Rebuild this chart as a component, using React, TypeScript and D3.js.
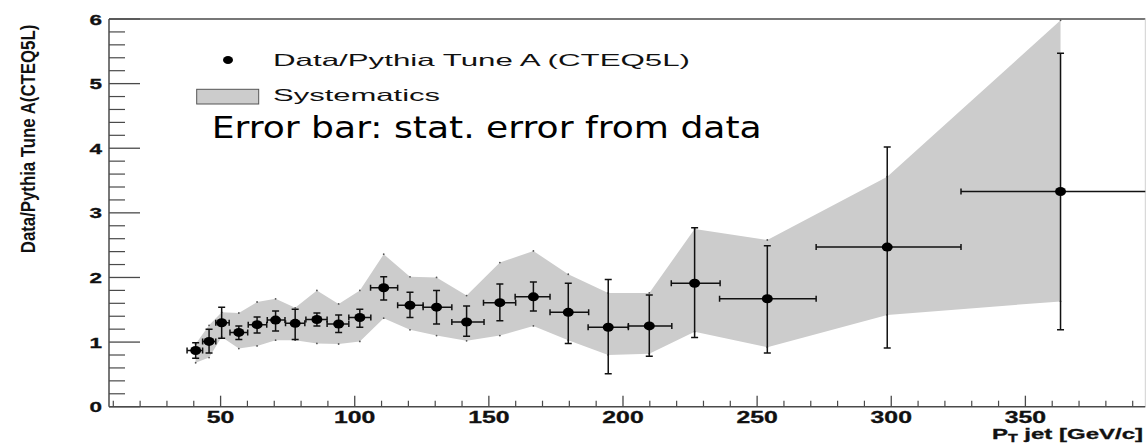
import React from "react";
import * as d3 from "d3";

// ---- data ----
const ptCenter = [40.7, 45.7, 50.4, 56.8, 63.6, 70.5, 77.8, 85.9, 94.0, 101.9, 110.8, 120.6, 130.5, 141.7, 154.1, 166.6, 179.6, 194.5, 209.8, 226.7, 253.8, 298.5, 363.1];
const ptLow = [37.5, 43.3, 48.2, 53.5, 60.3, 67.4, 74.2, 81.8, 89.7, 97.8, 105.9, 116.0, 125.5, 136.2, 148.0, 159.8, 172.8, 187.0, 202.0, 218.0, 236.0, 272.0, 326.0];
const ptHigh = [43.3, 48.2, 53.2, 60.1, 67.2, 74.0, 81.4, 89.7, 97.8, 106.0, 116.0, 125.5, 136.2, 148.2, 160.0, 172.8, 187.2, 202.0, 218.2, 236.2, 272.0, 326.0, 400.0];
const ratio = [0.87, 1.01, 1.30, 1.15, 1.27, 1.34, 1.29, 1.35, 1.28, 1.38, 1.84, 1.57, 1.54, 1.31, 1.61, 1.70, 1.46, 1.23, 1.25, 1.91, 1.67, 2.47, 3.33];
const statUp = [0.99, 1.20, 1.54, 1.25, 1.39, 1.48, 1.51, 1.45, 1.42, 1.51, 2.01, 1.77, 1.80, 1.56, 1.90, 1.93, 1.91, 1.97, 1.73, 2.77, 2.49, 4.02, 5.47];
const statDown = [0.75, 0.83, 1.06, 1.04, 1.14, 1.17, 1.04, 1.25, 1.15, 1.23, 1.65, 1.38, 1.28, 1.09, 1.33, 1.48, 0.98, 0.51, 0.78, 1.07, 0.83, 0.91, 1.19];
const sysUp = [0.97, 1.26, 1.46, 1.45, 1.62, 1.67, 1.53, 1.80, 1.59, 1.80, 2.36, 2.01, 2.00, 1.72, 2.23, 2.41, 2.05, 1.76, 1.76, 2.75, 2.58, 3.56, 5.98];
const sysDown = [0.68, 0.76, 1.08, 0.90, 0.94, 1.03, 1.03, 0.98, 0.97, 1.01, 1.37, 1.19, 1.10, 1.02, 1.10, 1.25, 1.03, 0.80, 0.82, 1.16, 0.92, 1.42, 1.63];

const xTickValues = [50, 100, 150, 200, 250, 300, 350];
const yTickValues = [0, 1, 2, 3, 4, 5, 6];
const xDomain = [8.4, 394.7];
const yDomain = [0, 6];

const legendData = "Data/Pythia Tune A (CTEQ5L)";
const legendSys = "Systematics";
const noteText = "Error bar: stat. error from data";
const yTitle = "Data/Pythia Tune A(CTEQ5L)";

const W = 1146;
const H = 445;
const L = 109;
const R = 1145.3;
const T = 19;
const B = 406.7;

export default function App() {
  const x = d3.scaleLinear().domain(xDomain).range([L, R]);
  const y = d3.scaleLinear().domain(yDomain).range([B, T]);

  const pts = ptCenter.map((c, i) => ({
    c, lo: ptLow[i], hi: ptHigh[i], v: ratio[i], su: statUp[i], sd: statDown[i], yu: sysUp[i], yd: sysDown[i],
  }));

  const area = d3
    .area<any>()
    .x((d) => x(d.c))
    .y0((d) => y(d.yd))
    .y1((d) => y(d.yu));

  const xMinor = d3.range(10, 395, 10).filter((v) => v % 50 !== 0);
  const yMinor = d3.range(0, 6.001, 0.2).filter((v) => Math.abs(v - Math.round(v)) > 1e-6);

  const axisColor = "#4a4a4a";
  const cap = 3.5;

  return (
    <>
      <style>{`body{margin:0}`}</style>
      <svg width={W} height={H} style={{ display: "block", background: "#fff" }}>
        <defs>
          <clipPath id="plotClip">
            <rect x={L} y={T - 2} width={R - L} height={B - T + 2} />
          </clipPath>
        </defs>

        {/* systematics band */}
        <path d={area(pts) || ""} fill="#cccccc" stroke="none" />
        {pts.map((p, i) => (
          <g key={"bd" + i} fill="#555">
            <circle cx={x(p.c)} cy={y(p.yu)} r={0.9} />
            <circle cx={x(p.c)} cy={y(p.yd)} r={0.9} />
          </g>
        ))}

        {/* frame */}
        <line x1={L} x2={R} y1={T} y2={T} stroke={axisColor} strokeWidth={1.5} />
        <line x1={R} x2={R} y1={T} y2={B} stroke="#d0d0d0" strokeWidth={1} />

        {/* y axis */}
        <line x1={L} x2={L} y1={T} y2={B} stroke={axisColor} strokeWidth={1.5} />
        {yTickValues.map((v) => (
          <line key={"ym" + v} x1={L} x2={L + 31} y1={y(v)} y2={y(v)} stroke={axisColor} strokeWidth={1.3} />
        ))}
        {yMinor.map((v, i) => (
          <line key={"yn" + i} x1={L} x2={L + 16} y1={y(v)} y2={y(v)} stroke={axisColor} strokeWidth={1.2} />
        ))}
        {yTickValues.map((v) => (
          <g key={"yl" + v} transform={`translate(102,${y(v) + 5.5}) scale(1.5,1)`}>
            <text textAnchor="end" fontFamily="Liberation Sans, Arial, sans-serif" fontWeight="bold" fontSize={15} fill="#111" stroke="#111" strokeWidth={0.3}>
              {v}
            </text>
          </g>
        ))}

        {/* x axis */}
        <line x1={L} x2={R} y1={B} y2={B} stroke={axisColor} strokeWidth={1.5} />
        {xTickValues.map((v) => (
          <line key={"xm" + v} x1={x(v)} x2={x(v)} y1={B} y2={B - 11} stroke={axisColor} strokeWidth={1.3} />
        ))}
        {xMinor.map((v) => (
          <line key={"xn" + v} x1={x(v)} x2={x(v)} y1={B} y2={B - 6} stroke={axisColor} strokeWidth={1.2} />
        ))}
        {xTickValues.map((v) => (
          <g key={"xl" + v} transform={`translate(${x(v)},423) scale(1.55,1)`}>
            <text textAnchor="middle" fontFamily="Liberation Sans, Arial, sans-serif" fontWeight="bold" fontSize={16} fill="#111" stroke="#111" strokeWidth={0.3}>
              {v}
            </text>
          </g>
        ))}

        {/* x title */}
        <g transform="translate(1143,439) scale(1.6,1)">
          <text textAnchor="end" fontFamily="Liberation Sans, Arial, sans-serif" fontWeight="bold" fontSize={15} fill="#111" stroke="#111" strokeWidth={0.3}>
            P<tspan fontSize={10} dy={3}>T</tspan>
            <tspan dy={-3}> jet [GeV/c]</tspan>
          </text>
        </g>

        {/* y title */}
        <g transform="translate(35,139) rotate(-90) scale(0.8,1)">
          <text textAnchor="middle" fontFamily="Liberation Sans, Arial, sans-serif" fontWeight="bold" fontSize={21} fill="#111">
            {yTitle}
          </text>
        </g>

        {/* data points with stat errors */}
        <g clipPath="url(#plotClip)" stroke="#111" strokeWidth={1.5} fill="none">
          {pts.map((p, i) => (
            <g key={"pt" + i}>
              <line x1={x(p.c)} x2={x(p.c)} y1={y(p.su)} y2={y(p.sd)} />
              <line x1={x(p.c) - cap} x2={x(p.c) + cap} y1={y(p.su)} y2={y(p.su)} />
              <line x1={x(p.c) - cap} x2={x(p.c) + cap} y1={y(p.sd)} y2={y(p.sd)} />
              <line x1={x(p.lo)} x2={x(p.hi)} y1={y(p.v)} y2={y(p.v)} />
              <line x1={x(p.lo)} x2={x(p.lo)} y1={y(p.v) - 3} y2={y(p.v) + 3} />
              <line x1={x(p.hi)} x2={x(p.hi)} y1={y(p.v) - 3} y2={y(p.v) + 3} />
              <ellipse cx={x(p.c)} cy={y(p.v)} rx={5.5} ry={4.5} fill="#000" stroke="none" />
            </g>
          ))}
        </g>

        {/* legend */}
        <ellipse cx={228} cy={60} rx={5} ry={4} fill="#000" />
        <text x={273} y={65.5} fontFamily="Liberation Sans, Arial, sans-serif" fontSize={16.5} fill="#111" textLength={417} lengthAdjust="spacingAndGlyphs">
          {legendData}
        </text>
        <rect x={196.7} y={89.3} width={62} height={14.7} fill="#cccccc" stroke="#555" strokeWidth={1} />
        <text x={273} y={100.5} fontFamily="Liberation Sans, Arial, sans-serif" fontSize={16.5} fill="#111" textLength={167} lengthAdjust="spacingAndGlyphs">
          {legendSys}
        </text>

        <text x={211.7} y={138.3} fontFamily="DejaVu Sans, Verdana, sans-serif" fontSize={31} fill="#000" textLength={550} lengthAdjust="spacingAndGlyphs">
          {noteText}
        </text>
      </svg>
    </>
  );
}
